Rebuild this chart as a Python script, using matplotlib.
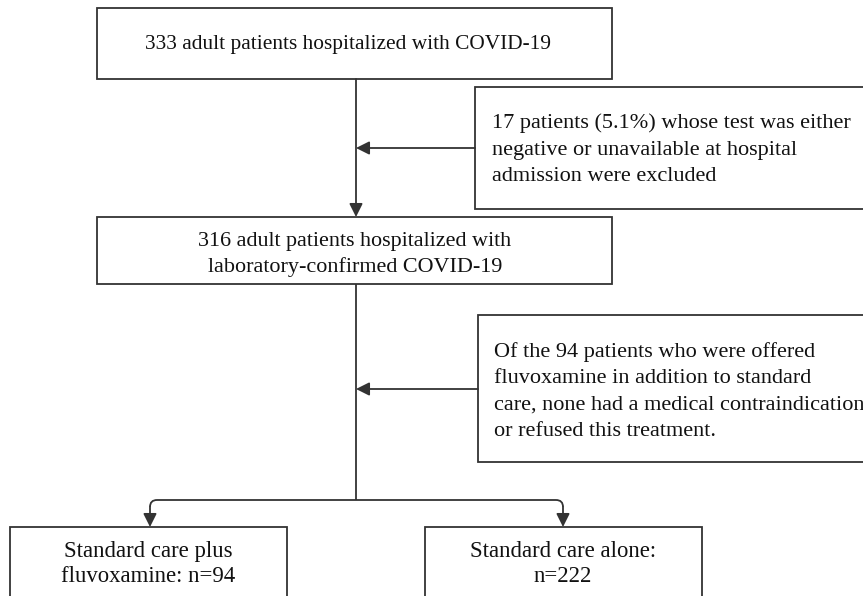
import matplotlib.pyplot as plt
from matplotlib.patches import Rectangle, FancyArrowPatch, PathPatch
from matplotlib.path import Path

# --- Box texts ---
top_lines = ["333 adult patients hospitalized with COVID-19"]
confirmed_lines = ["316 adult patients hospitalized with",
                   "laboratory-confirmed COVID-19"]
excluded_lines = ["17 patients (5.1%) whose test was either",
                  "negative or unavailable at hospital",
                  "admission were excluded"]
offered_lines = ["Of the 94 patients who were offered",
                 "fluvoxamine in addition to standard",
                 "care, none had a medical contraindication",
                 "or refused this treatment."]
arm1_lines = ["Standard care plus", "fluvoxamine: n=94"]
arm2_lines = ["Standard care alone:", "n=222"]

LC = "#333333"
LW = 1.3
FONT = "Liberation Serif"

fig = plt.figure(figsize=(8.63, 5.96), dpi=100)
ax = fig.add_axes([0, 0, 1, 1])
ax.set_xlim(0, 863)
ax.set_ylim(596, 0)
ax.axis("off")


def box(x0, y0, x1, y1):
    ax.add_patch(Rectangle((x0, y0), x1 - x0, y1 - y0, facecolor="white",
                           edgecolor=LC, linewidth=LW, zorder=2))


def lines(x, y0, step, items, fs, ha):
    for i, ln in enumerate(items):
        ax.text(x, y0 + i * step, ln, ha=ha, va="baseline", fontsize=fs,
                family=FONT, color="#111111", zorder=4)


def arrow(p0, p1):
    ax.add_patch(FancyArrowPatch(p0, p1, arrowstyle="-|>", mutation_scale=20,
                                 color=LC, linewidth=LW, shrinkA=0, shrinkB=0,
                                 zorder=3))


# main column
box(97, 8, 612, 79)
lines(348, 49, 0, top_lines, 15.4, "center")

box(97, 217, 612, 284)
lines(355, 246, 26, confirmed_lines, 15.9, "center")

arrow((356, 79), (356, 217))

# exclusion box
box(475, 87, 880, 209)
lines(492, 128, 26.5, excluded_lines, 16, "left")
arrow((475, 148), (356, 148))

# offered box
ax.plot([356, 356], [284, 500], color=LC, lw=LW, zorder=1, solid_capstyle="butt")
box(478, 315, 880, 462)
lines(494, 357, 26.3, offered_lines, 16, "left")
arrow((478, 389), (356, 389))

# split to two arms with rounded corners
r = 7
for xe in (150, 563):
    s = 1 if xe > 356 else -1
    verts = [(356, 500), (xe - s * r, 500), (xe, 500), (xe, 500 + r)]
    codes = [Path.MOVETO, Path.LINETO, Path.CURVE3, Path.CURVE3]
    ax.add_patch(PathPatch(Path(verts, codes), facecolor="none", edgecolor=LC,
                           lw=LW, zorder=1))
    arrow((xe, 500 + r), (xe, 527))

box(10, 527, 287, 610)
box(425, 527, 702, 610)
lines(148, 557, 25, arm1_lines, 16.4, "center")
lines(563, 557, 25, arm2_lines, 16.4, "center")

fig.savefig("out.png", dpi=100)
